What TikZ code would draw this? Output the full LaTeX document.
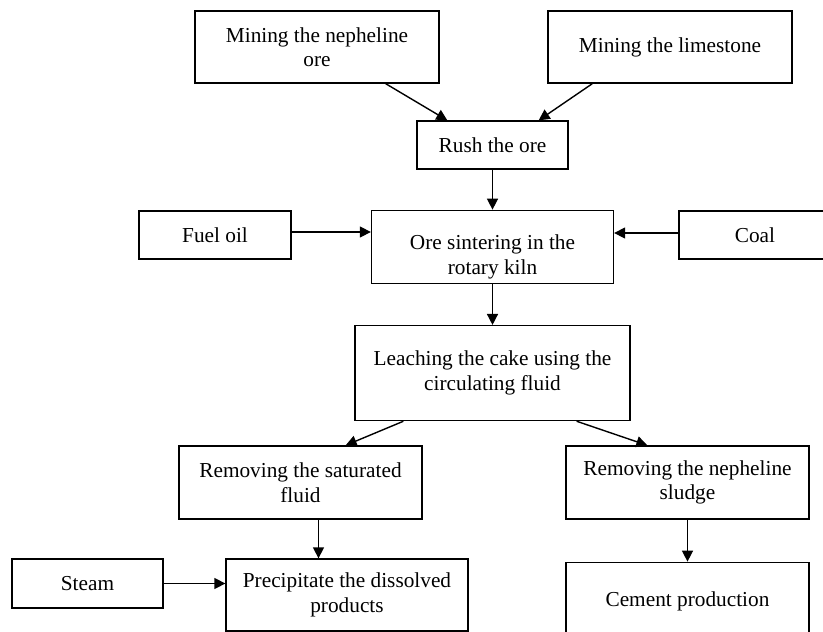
\documentclass[tikz,border=0pt]{standalone}
\usepackage{fontspec}
\setmainfont{Liberation Serif}
\usetikzlibrary{arrows.meta, positioning}

\tikzset{
    stage/.style={draw, line width=1.3pt, inner sep=0pt, align=center,
        font=\fontsize{21.3pt}{24.5pt}\selectfont},
    flow/.style={-{Triangle[length=11pt,width=11pt]}, line width=1.4pt},
}

\begin{document}
\begin{tikzpicture}[x=1pt, y=-1pt]
    \useasboundingbox (0,0) rectangle (823,632);

    \node[stage, minimum width=244pt, minimum height=72pt] (Nepheline) at (317,47) {Mining the nepheline\\ore};
    \node[stage, minimum width=244pt, minimum height=72pt] (Limestone) at (670,47) {Mining the limestone};
    \node[stage, minimum width=151pt, minimum height=48pt] (Rush) at (492.5,145) {Rush the ore};

    \node[stage, minimum width=242pt, minimum height=73pt, below=40pt of Rush] (Sintering) {\rule{0pt}{35pt}Ore sintering in the\\rotary kiln};
    \node[stage, minimum width=152pt, minimum height=48pt] (Fuel oil) at (215,235) {Fuel oil};
    \node[stage, minimum width=152pt, minimum height=48pt] (Coal) at (755,235) {Coal};

    \node[stage, minimum width=275pt, minimum height=95pt, below=41pt of Sintering] (Leaching) {Leaching the cake using the\\circulating fluid};
    \node[stage, minimum width=243pt, minimum height=73pt] (Saturated) at (300.5,482.5) {Removing the saturated\\fluid};
    \node[stage, minimum width=243pt, minimum height=73pt] (Sludge) at (687.5,482.5) {Removing the nepheline\\sludge};

    \node[stage, minimum width=151pt, minimum height=49pt] (Steam) at (87.5,583.5) {Steam};
    \node[stage, minimum width=242pt, minimum height=72pt] (Precipitate) at (347,595) {Precipitate the dissolved\\products};
    \node[stage, minimum width=243pt, minimum height=78pt, below=42pt of Sludge] (Cement) {Cement production};

    \draw[flow] ([xshift=-54pt]Nepheline.south east) -- ([xshift=31pt]Rush.north west);
    \draw[flow] ([xshift=45pt]Limestone.south west) -- ([xshift=-30pt]Rush.north east);
    \draw[flow] (Rush.south) -- (Rush.south |- Sintering.north);
    \draw[flow] ([yshift=3pt]Fuel oil.east) -- ([yshift=3pt]Fuel oil.east -| Sintering.west);
    \draw[flow] ([yshift=2pt]Coal.west) -- ([yshift=2pt]Coal.west -| Sintering.east);
    \draw[flow] (Sintering.south) -- (Sintering.south |- Leaching.north);
    \draw[flow] ([xshift=49pt]Leaching.south west) -- ([xshift=-77pt]Saturated.north east);
    \draw[flow] ([xshift=-54pt]Leaching.south east) -- ([xshift=82pt]Sludge.north west);
    \draw[flow] ([xshift=18pt]Saturated.south) -- ([xshift=18pt]Saturated.south |- Precipitate.north);
    \draw[flow] (Steam.east) -- (Steam.east -| Precipitate.west);
    \draw[flow] (Sludge.south) -- (Sludge.south |- Cement.north);
\end{tikzpicture}
\end{document}
